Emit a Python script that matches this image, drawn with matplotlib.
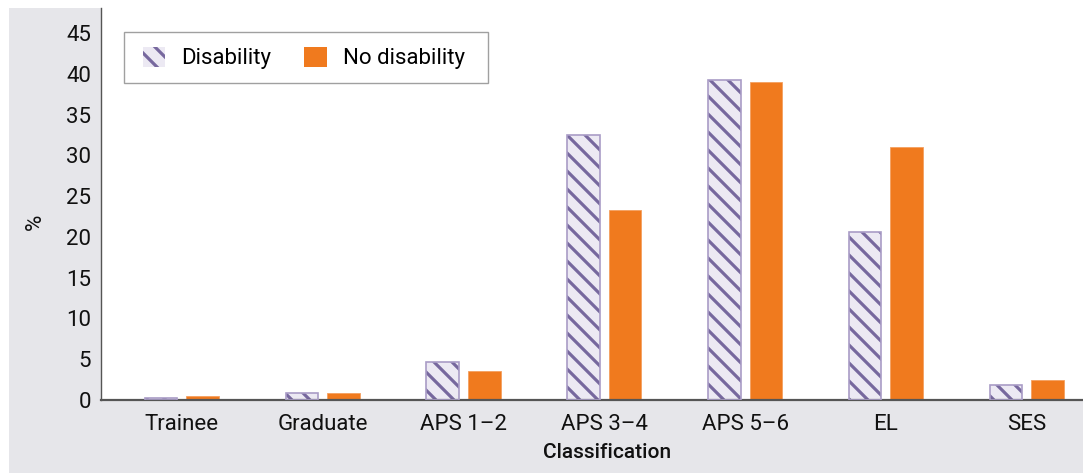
import matplotlib
matplotlib.use("Agg")
import matplotlib.pyplot as plt
from matplotlib.patches import Patch, Rectangle
import numpy as np

categories = ["Trainee", "Graduate", "APS 1\u20132", "APS 3\u20134", "APS 5\u20136", "EL", "SES"]
disability = [0.2, 0.8, 4.6, 32.5, 39.2, 20.6, 1.8]
no_disability = [0.5, 0.8, 3.6, 23.3, 39.0, 31.0, 2.5]
y_ticks = [0, 5, 10, 15, 20, 25, 30, 35, 40, 45]

# canvas in pixels; dpi chosen so the hatch pitch is 18 px
W, H, DPI = 1083, 473, 108
K = 100 / DPI  # keeps point sizes equal to a 100-dpi layout

FONT = ["Roboto", "Liberation Sans", "DejaVu Sans"]
plt.rcParams["font.family"] = FONT
plt.rcParams["hatch.linewidth"] = 2.3 * K

FS = 16 * K
ORANGE = "#f07a1e"
PURPLE = "#77689e"
LAVENDER = "#ece9f3"
BAR_EDGE = "#a99cc6"
PANEL = "#e6e6ea"
SPINE = "#555555"
TEXT = "#111111"

fig = plt.figure(figsize=(W / DPI, H / DPI), dpi=DPI)
fig.patch.set_facecolor("white")
# grey panel behind the plot
fig.patches.append(Rectangle((9 / W, 0), 1 - 9 / W, 1 - 8 / H,
                             transform=fig.transFigure, facecolor=PANEL,
                             edgecolor="none", zorder=-5))

AX_L, AX_T, AX_B = 101, 8, 400
ax = fig.add_axes([AX_L / W, (H - AX_B) / H, 1 - AX_L / W, (AX_B - AX_T) / H])
ax.set_zorder(2)
ax.set_facecolor("white")


def ax_frac(px, py):
    return (px - AX_L) / (W - AX_L), (AX_B - py) / (AX_B - AX_T)


x = np.arange(len(categories))
w = 0.232
off = 0.148

ax.bar(x - off, disability, width=w, color=LAVENDER, edgecolor=PURPLE,
       hatch="\\\\", linewidth=0, zorder=2)
ax.bar(x - off, disability, width=w, fill=False, edgecolor=BAR_EDGE,
       linewidth=1.2 * K, zorder=3)
ax.bar(x + off, no_disability, width=w, color=ORANGE, edgecolor="#f4a060",
       linewidth=0.6 * K, zorder=2)

ax.set_xlim(-0.575, 6.40)
ax.set_ylim(0, 48.07)
ax.set_yticks(y_ticks)
ax.set_xticks(x)
ax.set_xticklabels(categories)
ax.tick_params(axis="both", length=0, labelsize=FS, colors=TEXT)
ax.tick_params(axis="x", pad=10 * K)
ax.tick_params(axis="y", pad=7 * K)

for s in ["top", "right"]:
    ax.spines[s].set_visible(False)
ax.spines["left"].set_color(SPINE)
ax.spines["left"].set_linewidth(1.0 * K)
ax.spines["bottom"].set_color(SPINE)
ax.spines["bottom"].set_linewidth(1.6 * K)

ax.set_ylabel("%", fontsize=FS, color=TEXT)
ax.yaxis.set_label_coords(*ax_frac(35, 222))
ax.set_xlabel("Classification", fontsize=15 * K, fontweight="medium", color=TEXT)
ax.xaxis.set_label_coords(*ax_frac(607, 452))
ax.xaxis.label.set_va("center")
ax.yaxis.label.set_va("center")

# legend: entries without frame, plus a plain box around them
handles = [
    Patch(facecolor=LAVENDER, edgecolor=PURPLE, hatch="\\\\", linewidth=0),
    Patch(facecolor=ORANGE, edgecolor="none"),
]
leg = ax.legend(handles, ["Disability", "No disability"], ncol=2,
                loc="center left", bbox_to_anchor=ax_frac(143, 58),
                borderaxespad=0, borderpad=0, fontsize=FS, frameon=False,
                handlelength=1.0, handleheight=1.0, handletextpad=0.72,
                columnspacing=1.49)
bx0, by1 = ax_frac(124, 32)
bx1, by0 = ax_frac(488, 83)
ax.add_patch(Rectangle((bx0, by0), bx1 - bx0, by1 - by0, transform=ax.transAxes,
                       facecolor="white", edgecolor="#a0a0a0",
                       linewidth=1.0 * K, zorder=4))
leg.set_zorder(5)

fig.savefig("out.png", dpi=DPI)
